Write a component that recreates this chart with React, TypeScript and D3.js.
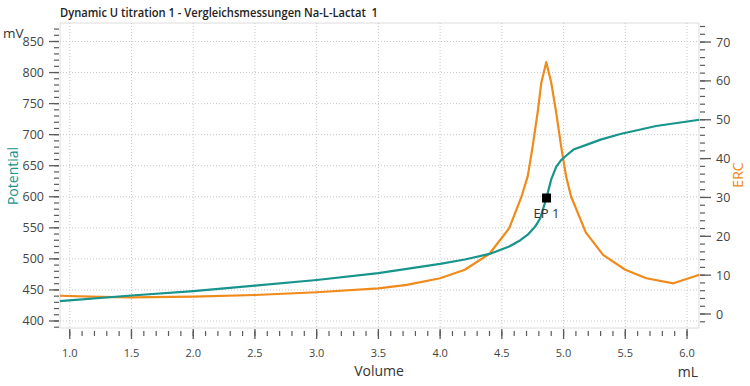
import { scaleLinear, line as d3_line, range } from "d3";

const potVolume = [0.92, 1.5, 2.0, 2.5, 3.0, 3.5, 4.0, 4.2, 4.4, 4.56, 4.65, 4.71, 4.77, 4.81, 4.86, 4.9, 4.94, 4.98, 5.02, 5.08, 5.19, 5.3, 5.46, 5.75, 6.1];
const potValue = [432, 441, 448, 457, 466, 477, 492, 499, 508, 520, 530, 539, 552, 565, 597, 628, 648, 659, 666, 676, 684, 692, 701, 714, 724];

const ercVolume = [0.92, 1.25, 1.5, 2.0, 2.5, 3.0, 3.5, 3.73, 4.0, 4.2, 4.4, 4.56, 4.66, 4.71, 4.75, 4.79, 4.82, 4.86, 4.9, 4.94, 4.98, 5.02, 5.06, 5.18, 5.32, 5.5, 5.67, 5.89, 6.1];
const ercValue = [4.7, 4.4, 4.3, 4.5, 4.9, 5.6, 6.6, 7.5, 9.2, 11.4, 15.5, 22.1, 30.3, 35.5, 43.2, 51.9, 59.6, 64.8, 59.6, 51.9, 43.2, 35.5, 30.3, 21, 15.2, 11.4, 9.2, 7.9, 10.1];

const endpoint = { label: "EP 1", volume: 4.862, value: 598 };

const xTicks = [1.0, 1.5, 2.0, 2.5, 3.0, 3.5, 4.0, 4.5, 5.0, 5.5, 6.0];
const leftTicks = [400, 450, 500, 550, 600, 650, 700, 750, 800, 850];
const rightTicks = [0, 10, 20, 30, 40, 50, 60, 70];

const TEAL = "#17948c";
const ORANGE = "#f08a1a";
const FONT = "'Open Sans', 'Noto Sans', sans-serif";

export default function App() {
  const W = 750, H = 386;
  const left = 60, right = 699, top = 23, bottom = 328;

  const x = scaleLinear().domain([0.921, 6.097]).range([left, right]);
  const y = scaleLinear().domain([388.7, 879.8]).range([bottom, top]);
  const y2 = scaleLinear().domain([-3.6, 74.9]).range([bottom, top]);

  const potLine = d3_line<number>()
    .x((d, i) => x(potVolume[i]))
    .y((d) => y(d));
  const ercLine = d3_line<number>()
    .x((d, i) => x(ercVolume[i]))
    .y((d) => y2(d));

  // minor ticks
  const xMinor = range(10, 61).map((v) => v / 10).filter((v) => x(v) >= left && x(v) <= right);
  const yMinor = range(390, 880, 10).filter((v) => y(v) >= top);
  const y2Minor = range(-2, 76, 2).filter((v) => y2(v) >= top && y2(v) <= bottom);

  const tickColor = "#5a5a5a";
  const labelColor = "#444";

  return (
    <svg width={W} height={H} style={{ position: "absolute", left: 0, top: 0, background: "#fff" }} fontFamily={FONT}>
      <rect width={W} height={H} fill="#fff" />
      <text x={60} y={17} fontSize={12.5} fontWeight={600} fill="#222" xmlSpace="preserve" textLength={318} lengthAdjust="spacingAndGlyphs">
        {"Dynamic U titration 1 - Vergleichsmessungen Na-L-Lactat\u00a0\u00a01"}
      </text>

      {/* frame */}
      <line x1={left} x2={right} y1={top} y2={top} stroke="#dcdcdc" />
      <line x1={left} x2={right} y1={bottom} y2={bottom} stroke="#dcdcdc" />
      <line x1={left} x2={left} y1={top} y2={bottom} stroke="#dcdcdc" />
      <line x1={right} x2={right} y1={top} y2={bottom} stroke="#dcdcdc" />

      {/* grid */}
      {xTicks.map((v) => (
        <line key={"gx" + v} x1={x(v)} x2={x(v)} y1={top} y2={bottom} stroke="#c8c8c8" strokeDasharray="1,2" />
      ))}
      {leftTicks.map((v) => (
        <line key={"gy" + v} x1={left} x2={right} y1={y(v)} y2={y(v)} stroke="#c8c8c8" strokeDasharray="1,2" />
      ))}

      {/* x axis */}
      {xMinor.map((v) => (
        <line key={"xm" + v} x1={x(v)} x2={x(v)} y1={bottom + 3} y2={bottom + 8} stroke={tickColor} strokeWidth={1.2} />
      ))}
      {xTicks.map((v) => (
        <g key={"xt" + v}>
          <line x1={x(v)} x2={x(v)} y1={bottom + 1} y2={bottom + 11} stroke={tickColor} strokeWidth={1.3} />
          <text x={x(v)} y={357} fontSize={11} textAnchor="middle" fill={labelColor}>{v.toFixed(1)}</text>
        </g>
      ))}
      <text x={379} y={376} fontSize={14} textAnchor="middle" fill="#333">Volume</text>
      <text x={698} y={377} fontSize={14} textAnchor="end" fill="#333">mL</text>

      {/* left axis */}
      {yMinor.map((v) => (
        <line key={"ym" + v} x1={left - 6} x2={left - 1} y1={y(v)} y2={y(v)} stroke={tickColor} strokeWidth={1.2} />
      ))}
      {leftTicks.map((v) => (
        <g key={"yt" + v}>
          <line x1={left - 11} x2={left - 1} y1={y(v)} y2={y(v)} stroke={tickColor} strokeWidth={1.3} />
          <text x={44} y={y(v) + 4.5} fontSize={12.5} textAnchor="end" fill={labelColor}>{v}</text>
        </g>
      ))}
      <text x={3} y={38} fontSize={13.5} fill="#333">mV</text>
      <text transform="translate(18,176) rotate(-90)" fontSize={14} textAnchor="middle" fill={TEAL}>Potential</text>

      {/* right axis */}
      {y2Minor.map((v) => (
        <line key={"y2m" + v} x1={right + 1} x2={right + 6} y1={y2(v)} y2={y2(v)} stroke={tickColor} strokeWidth={1.2} />
      ))}
      {rightTicks.map((v) => (
        <g key={"y2t" + v}>
          <line x1={right + 1} x2={right + 12} y1={y2(v)} y2={y2(v)} stroke={tickColor} strokeWidth={1.3} />
          <text x={716} y={y2(v) + 4.5} fontSize={12.5} fill={labelColor}>{v}</text>
        </g>
      ))}
      <text transform="translate(743,175) rotate(-90)" fontSize={14} textAnchor="middle" fill={ORANGE}>ERC</text>

      {/* curves */}
      <path d={ercLine(ercValue) ?? ""} fill="none" stroke={ORANGE} strokeWidth={2.2} strokeLinejoin="round" />
      <path d={potLine(potValue) ?? ""} fill="none" stroke={TEAL} strokeWidth={2.2} strokeLinejoin="round" />

      {/* endpoint */}
      <rect x={x(endpoint.volume) - 4.5} y={y(endpoint.value) - 4.5} width={9} height={9} fill="#000" />
      <text x={x(endpoint.volume)} y={y(endpoint.value) + 20} fontSize={13} textAnchor="middle" fill="#333">{endpoint.label}</text>
    </svg>
  );
}
